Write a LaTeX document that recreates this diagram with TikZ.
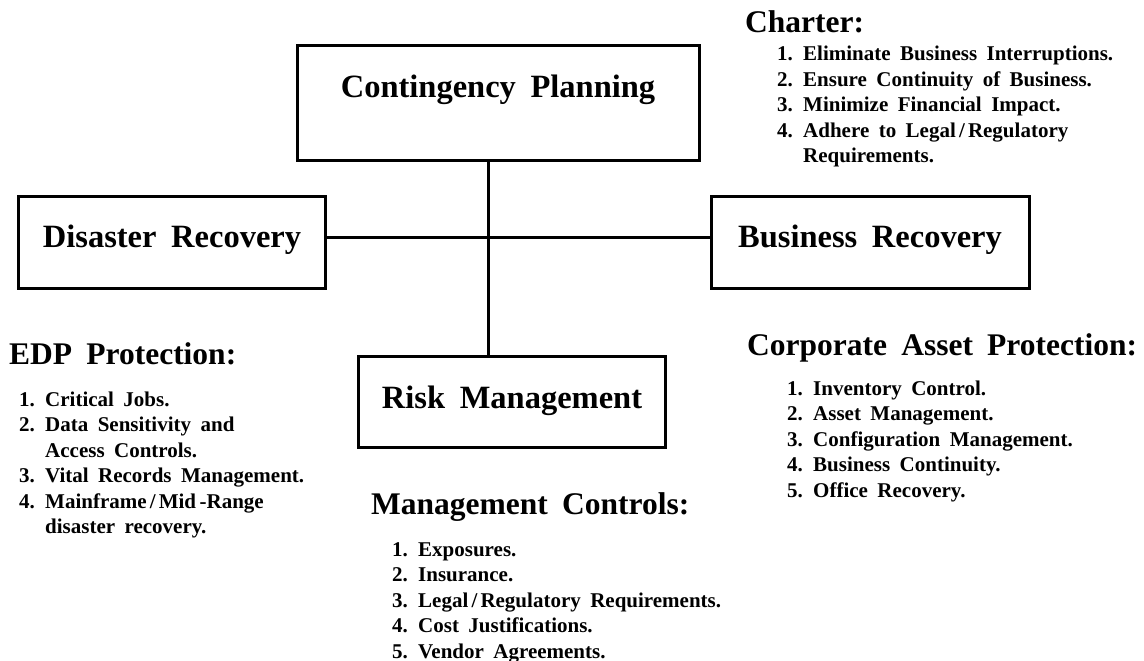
\documentclass[tikz,border=0pt]{standalone}
\usepackage{fontspec}
\setmainfont{Liberation Serif}[WordSpace=1.8]
\newcommand{\slsh}{\hspace{0.15em}/\hspace{0.15em}}
\begin{document}
\begin{tikzpicture}[x=1pt,y=-1pt,
    box/.style={draw, line width=3pt, inner sep=0pt, anchor=base,
      font=\fontsize{32.5}{36}\selectfont\bfseries},
    head/.style={anchor=base west, inner sep=0pt,
      font=\fontsize{31.5}{36}\selectfont\bfseries},
    items/.style={anchor=base west, inner sep=0pt,
      font=\fontsize{21}{25.5}\selectfont\bfseries}]
    \useasboundingbox (0,0) rectangle (1144,661);
    % the four boxes
    \node[box, minimum width=402pt, text height=52pt, text depth=62pt] (cp) at (498,98) {Contingency Planning};
    \node[box, minimum width=307pt, text height=51pt, text depth=41pt] (dr) at (172,247) {Disaster Recovery};
    \node[box, minimum width=318pt, text height=51pt, text depth=41pt] (br) at (870,247) {Business Recovery};
    \node[box, minimum width=307pt, text height=52pt, text depth=39pt] (rm) at (512,408) {Risk Management};
    % the cross of lines
    \coordinate (hub) at (488,237);
    \draw[line width=3pt] (hub |- cp.south) -- (hub |- rm.north);
    \draw[line width=3pt] (dr.east |- hub) -- (br.west |- hub);
    % charter
    \node[head] (charter) at (745,33) {Charter:};
    \node[items] (charterlist) at (777,61) {\begin{tabular}[t]{@{}p{26pt}@{}l@{}}
      1.&Eliminate Business Interruptions.\\
      2.&Ensure Continuity of Business.\\
      3.&Minimize Financial Impact.\\
      4.&Adhere to Legal\slsh Regulatory\\
      &Requirements.
    \end{tabular}};
    % edp protection
    \node[head] (edp) at (9,364) {EDP Protection:};
    \node[items] (edplist) at (19,406) {\begin{tabular}[t]{@{}p{26pt}@{}l@{}}
      1.&Critical Jobs.\\
      2.&Data Sensitivity and\\
      &Access Controls.\\
      3.&Vital Records Management.\\
      4.&Mainframe\slsh Mid\,-Range\\
      &disaster recovery.
    \end{tabular}};
    % corporate asset protection
    \node[head] (cap) at (747,355) {Corporate Asset Protection:};
    \node[items] (caplist) at (787,395) {\begin{tabular}[t]{@{}p{26pt}@{}l@{}}
      1.&Inventory Control.\\
      2.&Asset Management.\\
      3.&Configuration Management.\\
      4.&Business Continuity.\\
      5.&Office Recovery.
    \end{tabular}};
    % management controls
    \node[head] (mc) at (371,514) {Management Controls:};
    \node[items] (mclist) at (392,556) {\begin{tabular}[t]{@{}p{26pt}@{}l@{}}
      1.&Exposures.\\
      2.&Insurance.\\
      3.&Legal\slsh Regulatory Requirements.\\
      4.&Cost Justifications.\\
      5.&Vendor Agreements.
    \end{tabular}};
\end{tikzpicture}
\end{document}
